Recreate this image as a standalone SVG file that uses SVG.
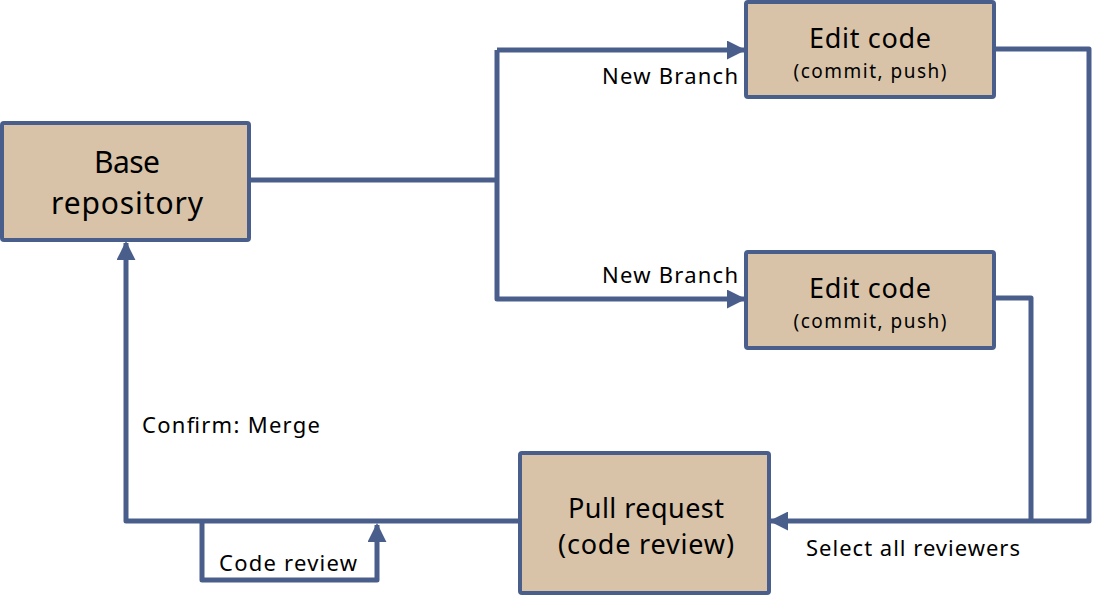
<svg xmlns="http://www.w3.org/2000/svg" width="1094" height="596" viewBox="0 0 1094 596">
<style>
.box{fill:#D8C3A8;stroke:#4A5E8C;stroke-width:4}
.ln{fill:none;stroke:#4A5E8C;stroke-width:5;stroke-linejoin:round}
text{font-family:"Noto Sans","Open Sans",sans-serif;fill:#000}
.big{font-size:30px;text-anchor:middle}
.mid{font-size:27px;text-anchor:middle}
.sm{font-size:19px;text-anchor:middle}
.lbl{font-size:22px}
</style>
<defs>
<marker id="ah" viewBox="0 0 10 10" refX="9" refY="5" markerWidth="3.8" markerHeight="3.8" markerUnits="strokeWidth" orient="auto">
<path d="M0,0 L10,5 L0,10 z" fill="#4A5E8C"/>
</marker>
</defs>
<rect width="1094" height="596" fill="#fff"/>
<g id="connectors">
<polyline class="ln" points="249,180 497,180"/>
<polyline class="ln" points="497,50 497,299 744,299" marker-end="url(#ah)"/>
<polyline class="ln" points="497,50 744,50" marker-end="url(#ah)"/>
<polyline class="ln" points="994,49 1089,49 1089,521 771,521" marker-end="url(#ah)"/>
<polyline class="ln" points="994,298 1031,298 1031,521"/>
<polyline class="ln" points="520,521 126,521 126,243" marker-end="url(#ah)"/>
<polyline class="ln" points="202,521 202,580 377,580 377,525" marker-end="url(#ah)"/>
</g>
<g id="base">
<rect class="box" x="2" y="123" width="247" height="117" rx="2"/>
<text class="big" x="127" y="173" textLength="66" lengthAdjust="spacing">Base</text>
<text class="big" x="127" y="214" textLength="152" lengthAdjust="spacing">repository</text>
</g>
<g id="edit1">
<rect class="box" x="746" y="2" width="248" height="95" rx="2"/>
<text class="mid" x="870" y="48" textLength="122" lengthAdjust="spacing">Edit code</text>
<text class="sm" x="870" y="78" textLength="153" lengthAdjust="spacing">(commit, push)</text>
</g>
<g id="edit2">
<rect class="box" x="746" y="252" width="248" height="96" rx="2"/>
<text class="mid" x="870" y="298" textLength="122" lengthAdjust="spacing">Edit code</text>
<text class="sm" x="870" y="328" textLength="153" lengthAdjust="spacing">(commit, push)</text>
</g>
<g id="pr">
<rect class="box" x="520" y="453" width="249" height="140" rx="2"/>
<text class="mid" x="646" y="518" textLength="156" lengthAdjust="spacing">Pull request</text>
<text class="mid" x="646" y="554" textLength="176" lengthAdjust="spacing">(code review)</text>
</g>
<g id="labels">
<text class="lbl" x="602" y="84" textLength="136" lengthAdjust="spacing">New Branch</text>
<text class="lbl" x="602" y="283" textLength="136" lengthAdjust="spacing">New Branch</text>
<text class="lbl" x="142" y="433" textLength="178" lengthAdjust="spacing">Confirm: Merge</text>
<text class="lbl" x="219" y="571" textLength="138" lengthAdjust="spacing">Code review</text>
<text class="lbl" x="806" y="556" textLength="214" lengthAdjust="spacing">Select all reviewers</text>
</g>
</svg>
